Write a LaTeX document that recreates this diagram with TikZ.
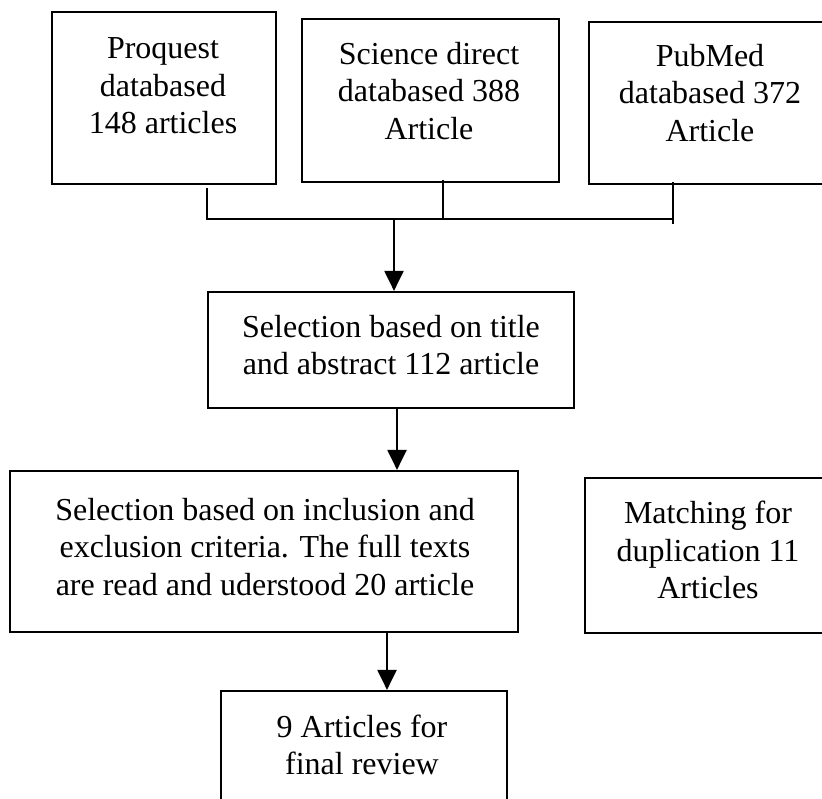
\documentclass[tikz,border=0pt]{standalone}
\usepackage{fontspec}
\setmainfont{Liberation Serif}
\usetikzlibrary{arrows.meta}
\tikzset{
  box/.style={draw,line width=2.2pt,rectangle,inner sep=0pt},
  txt/.style={align=center,inner sep=0pt,font=\fontsize{32}{37.5}\selectfont},
  line/.style={line width=2.2pt},
  arr/.style={line width=2.2pt,-{Triangle[length=20pt,width=19pt]}}
}
\begin{document}
\begin{tikzpicture}[x=1pt,y=-1pt]
  \useasboundingbox (0,0) rectangle (822,799);
  \clip (0,0) rectangle (822,799);
  % database boxes
  \node[box,minimum width=224pt,minimum height=172pt] (proquest) at (164,98) {};
  \node[box,minimum width=257pt,minimum height=163pt] (science) at (430.5,100.5) {};
  \node[box,minimum width=242pt,minimum height=162pt] (pubmed) at (710,103) {};
  \node[txt] (proquest-t) at (163,86) {Proquest\\databased\\148 articles};
  \node[txt] (science-t) at (429,91) {Science direct\\databased 388\\Article};
  \node[txt] (pubmed-t) at (710,93) {PubMed\\databased 372\\Article};
  % selection steps
  \node[box,minimum width=366pt,minimum height=116pt] (title) at (391,350) {};
  \node[txt] (title-t) at (391,345) {Selection based on title\\and abstract 112 article};
  \node[box,minimum width=508pt,minimum height=161pt] (fulltext) at (264,551.5) {};
  \node[txt] (fulltext-t) at (265,547) {Selection based on inclusion and\\exclusion criteria. The full texts\\are read and uderstood 20 article};
  \node[box,minimum width=246pt,minimum height=155pt] (match) at (708,555.5) {};
  \node[txt] (match-t) at (708,550) {Matching for\\duplication 11\\Articles};
  \node[box,minimum width=286pt,minimum height=139pt] (final) at (364,760.5) {};
  \node[txt] (final-t) at (362,745) {9 Articles for\\final review};
  % joining lines
  \coordinate (j0) at (394,219);
  \coordinate (j2) at (443,219);
  \coordinate (j3) at (673,219);
  \draw[line] ([xshift=43pt,yshift=-3pt]proquest.south) |- (j3);
  \draw[line] ([xshift=12.5pt,yshift=3pt]science.south) -- (j2);
  \draw[line] ([xshift=-37pt,yshift=3pt]pubmed.south) -- ([yshift=-5pt]j3);
  \draw[arr] (j0) -- (j0 |- title.north);
  \draw[arr] ([xshift=6pt]title.south) -- ([xshift=6pt]title.south |- fulltext.north);
  \draw[arr] ([xshift=23pt]final.north |- fulltext.south) -- ([xshift=23pt]final.north);
\end{tikzpicture}
\end{document}
